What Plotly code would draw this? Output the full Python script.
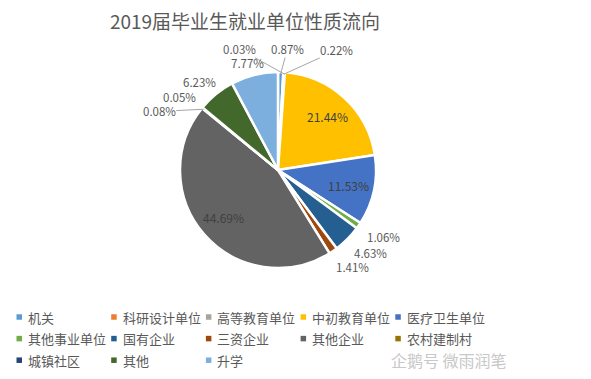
import math
import plotly.graph_objects as go

categories = ["机关", "科研设计单位", "高等教育单位", "中初教育单位", "医疗卫生单位",
              "其他事业单位", "国有企业", "三资企业", "其他企业", "农村建制村",
              "城镇社区", "其他", "升学"]
values = [0.87, 0.22, 0.03, 21.44, 11.53, 1.06, 4.63, 1.41, 44.69, 0.08, 0.05, 6.23, 7.77]
colors = ["#5B9BD5", "#ED7D31", "#A5A5A5", "#FFC000", "#4472C4", "#70AD47", "#255E91",
          "#9E480E", "#636363", "#997300", "#264478", "#43682B", "#7CAFDD"]
title = "2019届毕业生就业单位性质流向"
watermark = "企鹅号 微雨润笔"

# label placement tweaks (pixels) for crowded outside labels, and which get leader lines
label_nudge = {"机关": (6, -8), "科研设计单位": (51, -7), "高等教育单位": (-47, -8),
               "其他事业单位": (3, 3), "国有企业": (4, 3), "三资企业": (4, 4),
               "农村建制村": (-22, 13), "城镇社区": (-2, -1), "升学": (0, 3)}
leader = {"机关", "科研设计单位", "高等教育单位", "农村建制村"}

# page has an 8px body margin; figure sized so the page does not overflow the window
OFF = 8
W, H = 591 - 2 * OFF, 379 - 2 * OFF
cx, cy, r = 278, 170, 98          # pie centre / radius in window pixels
TXT = "#595959"


def px(x):
    return (x - OFF) / W


def py(y):
    return 1 - (y - OFF) / H


fig = go.Figure(go.Pie(
    labels=categories, values=values, sort=False, direction="clockwise", rotation=0,
    marker=dict(colors=colors, line=dict(color="white", width=2.5)),
    textinfo="none", showlegend=False,
    domain=dict(x=[px(cx - r), px(cx + r)], y=[py(cy + r), py(cy - r)]),
    hoverinfo="label+percent",
))

annotations = []
shapes = []
total = sum(values)
cum = 0.0
for cat, v in zip(categories, values):
    mid = (cum + v / 2) / total * 2 * math.pi
    cum += v
    dx, dy = math.sin(mid), -math.cos(mid)
    txt = f"{v:.2f}%"
    if v > 10:
        lx, ly = cx + 0.74 * r * dx, cy + 0.74 * r * dy
        annotations.append(dict(text=txt, x=px(lx), y=py(ly), xref="paper", yref="paper",
                                xanchor="center", yanchor="middle", showarrow=False,
                                font=dict(size=12, color="#404040")))
        continue
    g, bw, bh = 8, 38, 14
    lx = cx + (r + g) * dx + bw / 2 * dx
    ly = cy + (r + g) * dy + bh / 2 * dy
    nx, ny = label_nudge.get(cat, (0, 0))
    lx, ly = lx + nx, ly + ny
    if cat in leader:
        ex, ey = cx + (r - 2) * dx, cy + (r - 2) * dy
        annotations.append(dict(text=txt, x=px(ex), y=py(ey), xref="paper", yref="paper",
                                ax=lx - ex, ay=ly - ey, axref="pixel", ayref="pixel",
                                xanchor="center", yanchor="middle",
                                showarrow=True, arrowhead=0, arrowwidth=1,
                                arrowcolor="#A6A6A6", standoff=0, borderpad=0,
                                font=dict(size=11.5, color=TXT)))
    else:
        annotations.append(dict(text=txt, x=px(lx), y=py(ly), xref="paper", yref="paper",
                                xanchor="center", yanchor="middle",
                                showarrow=False, borderpad=0,
                                font=dict(size=11.5, color=TXT)))

# legend (5 columns)
col_x0, col_step = 16.5, 94.7
row_y0, row_step = 317, 21.6
for i, (cat, c) in enumerate(zip(categories, colors)):
    row, col = divmod(i, 5)
    x0 = col_x0 + col * col_step
    yc = row_y0 + row * row_step
    shapes.append(dict(type="rect", xref="paper", yref="paper",
                       x0=px(x0), x1=px(x0 + 5.5), y0=py(yc + 2.75), y1=py(yc - 2.75),
                       fillcolor=c, line=dict(width=0)))
    annotations.append(dict(text=cat, x=px(x0 + 10.5), y=py(yc), xref="paper", yref="paper",
                            xanchor="left", yanchor="middle", showarrow=False, borderpad=0,
                            font=dict(size=13, color=TXT)))

annotations.append(dict(text=watermark, x=px(449), y=py(360), xref="paper", yref="paper",
                        xanchor="center", yanchor="middle",
                        showarrow=False, borderpad=0, font=dict(size=16, color="#C8C8C8")))

fig.update_layout(
    width=W, height=H, margin=dict(l=0, r=0, t=0, b=0),
    paper_bgcolor="white", plot_bgcolor="white",
    font=dict(family="Noto Sans CJK SC, sans-serif", color=TXT),
    title=dict(text=title, x=px(245), xanchor="center", y=py(22), yanchor="middle",
               font=dict(size=19, color=TXT)),
    annotations=annotations, shapes=shapes, showlegend=False,
)

fig.write_html("out.html")
